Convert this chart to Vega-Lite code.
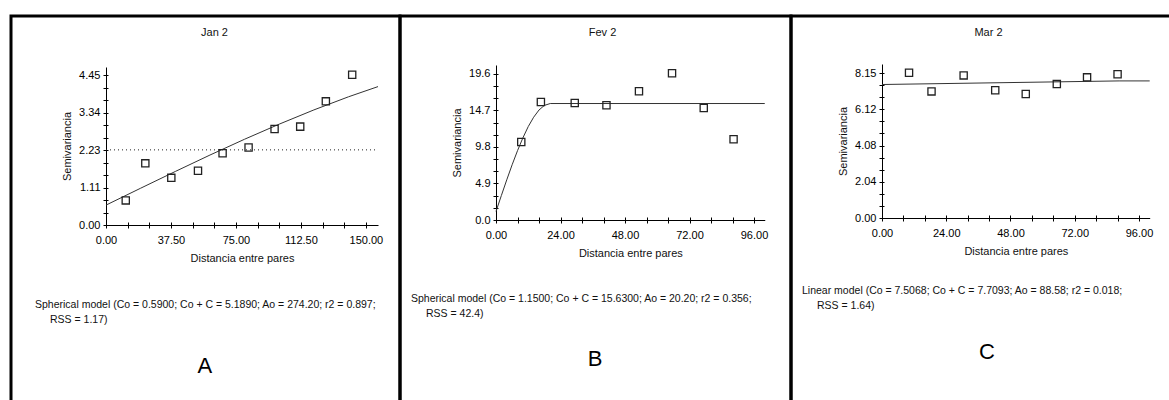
{
  "$schema": "https://vega.github.io/schema/vega-lite/v6.json",
  "background": "white",
  "padding": {"left": 9, "top": 14, "right": 0, "bottom": 0},
  "bounds": "flush",
  "spacing": 0,
  "config": {
    "view": {"stroke": "black", "strokeWidth": 3},
    "font": "Liberation Sans",
    "axis": {
      "domainColor": "black", "tickColor": "black", "labelColor": "black", "titleColor": "#111",
      "labelFont": "Liberation Sans", "titleFont": "Liberation Sans",
      "labelFontSize": 11, "titleFontSize": 11, "titleFontWeight": "normal",
      "grid": false, "tickSize": 3, "tickCount": 50, "labelOverlap": false, "labelFlush": false, "labelBound": false
    },
    "title": {"fontSize": 11, "fontWeight": "normal", "font": "Liberation Sans", "color": "#111"}
  },
  "datasets": {
    "jan_points": [
      {"distancia": 11.4, "semivariancia": 0.73},
      {"distancia": 22.7, "semivariancia": 1.83},
      {"distancia": 37.7, "semivariancia": 1.40},
      {"distancia": 53.1, "semivariancia": 1.61},
      {"distancia": 67.3, "semivariancia": 2.13},
      {"distancia": 82.3, "semivariancia": 2.30},
      {"distancia": 97.3, "semivariancia": 2.85},
      {"distancia": 112.1, "semivariancia": 2.92},
      {"distancia": 126.9, "semivariancia": 3.67},
      {"distancia": 142.1, "semivariancia": 4.46}
    ],
    "jan_model": [
      {"distancia": 0, "semivariancia": 0.59},
      {"distancia": 20, "semivariancia": 1.092},
      {"distancia": 40, "semivariancia": 1.589},
      {"distancia": 60, "semivariancia": 2.076},
      {"distancia": 80, "semivariancia": 2.546},
      {"distancia": 100, "semivariancia": 2.994},
      {"distancia": 120, "semivariancia": 3.416},
      {"distancia": 140, "semivariancia": 3.806},
      {"distancia": 157, "semivariancia": 4.108}
    ],
    "jan_ref": [{"desde": 0, "hasta": 156, "varianza": 2.23}],
    "jan_text": [
      {"linea": 1, "label": "Spherical model (Co = 0.5900; Co + C = 5.1890; Ao = 274.20; r2 = 0.897;"},
      {"linea": 2, "label": "RSS = 1.17)"}
    ],
    "jan_letter": [{"label": "A"}],
    "fev_points": [
      {"distancia": 9.4, "semivariancia": 10.47},
      {"distancia": 16.7, "semivariancia": 15.84},
      {"distancia": 29.3, "semivariancia": 15.71},
      {"distancia": 41.1, "semivariancia": 15.40},
      {"distancia": 53.2, "semivariancia": 17.27},
      {"distancia": 65.5, "semivariancia": 19.69},
      {"distancia": 77.3, "semivariancia": 15.04},
      {"distancia": 88.4, "semivariancia": 10.83}
    ],
    "fev_model": [
      {"distancia": 0, "semivariancia": 1.15},
      {"distancia": 2, "semivariancia": 3.29},
      {"distancia": 4, "semivariancia": 5.39},
      {"distancia": 6, "semivariancia": 7.41},
      {"distancia": 8, "semivariancia": 9.30},
      {"distancia": 10, "semivariancia": 11.02},
      {"distancia": 12, "semivariancia": 12.54},
      {"distancia": 14, "semivariancia": 13.79},
      {"distancia": 16, "semivariancia": 14.76},
      {"distancia": 18, "semivariancia": 15.38},
      {"distancia": 20.2, "semivariancia": 15.63},
      {"distancia": 100, "semivariancia": 15.63}
    ],
    "fev_text": [
      {"linea": 1, "label": "Spherical model (Co = 1.1500; Co + C = 15.6300; Ao = 20.20; r2 = 0.356;"},
      {"linea": 2, "label": "RSS = 42.4)"}
    ],
    "fev_letter": [{"label": "B"}],
    "mar_points": [
      {"distancia": 10.1, "semivariancia": 8.17},
      {"distancia": 18.5, "semivariancia": 7.12},
      {"distancia": 30.5, "semivariancia": 8.02},
      {"distancia": 42.3, "semivariancia": 7.18},
      {"distancia": 53.7, "semivariancia": 6.97},
      {"distancia": 65.3, "semivariancia": 7.53},
      {"distancia": 76.6, "semivariancia": 7.91},
      {"distancia": 88.0, "semivariancia": 8.08}
    ],
    "mar_model": [
      {"distancia": 0, "semivariancia": 7.507},
      {"distancia": 88.58, "semivariancia": 7.709},
      {"distancia": 100, "semivariancia": 7.709}
    ],
    "mar_text": [
      {"linea": 1, "label": "Linear model (Co = 7.5068; Co + C = 7.7093; Ao = 88.58; r2 = 0.018;"},
      {"linea": 2, "label": "RSS = 1.64)"}
    ],
    "mar_letter": [{"label": "C"}]
  },
  "hconcat": [
    {
      "width": 389, "height": 400,
      "title": {"text": "Jan 2", "anchor": "middle", "offset": -28, "baseline": "middle", "dx": 9},
      "resolve": {"axis": {"x": "independent", "y": "independent"}},
      "layer": [
        {
          "data": {"name": "jan_model"},
          "mark": {"type": "line", "color": "#333", "strokeWidth": 1},
          "encoding": {
            "x": {"field": "distancia", "type": "quantitative",
              "scale": {"domain": [0, 157], "range": [95, 367], "nice": false, "zero": false},
              "axis": {"orient": "bottom", "title": "Distancia entre pares", "offset": -191, "titlePadding": 7, "labelPadding": 6,
                "values": [0, 12.5, 25, 37.5, 50, 62.5, 75, 87.5, 100, 112.5, 125, 137.5, 150],
                "labelExpr": "['0.00','','','37.50','','','75.00','','','112.50','','','150.00'][round(datum.value/12.5)]"}},
            "y": {"field": "semivariancia", "type": "quantitative",
              "scale": {"domain": [0, 4.69], "range": [209, 51], "nice": false, "zero": false},
              "axis": {"orient": "left", "title": "Semivariancia", "offset": -95, "titlePadding": 6, "labelPadding": 3,
                "values": [0, 0.370833, 0.741667, 1.1125, 1.483333, 1.854167, 2.225, 2.595833, 2.966667, 3.3375, 3.708333, 4.079167, 4.45],
                "labelExpr": "['0.00','','','1.11','','','2.23','','','3.34','','','4.45'][round(datum.value/0.370833)]"}}
          }
        },
        {
          "data": {"name": "jan_ref"},
          "mark": {"type": "rule", "color": "#222", "strokeDash": [1, 3], "strokeWidth": 1},
          "encoding": {
            "x": {"field": "desde", "type": "quantitative", "axis": null},
            "x2": {"field": "hasta"},
            "y": {"field": "varianza", "type": "quantitative", "axis": null}
          }
        },
        {
          "data": {"name": "jan_points"},
          "mark": {"type": "point", "shape": "square", "size": 52, "filled": false, "color": "#222", "strokeWidth": 1.3, "opacity": 1},
          "encoding": {
            "x": {"field": "distancia", "type": "quantitative",
              "axis": {"orient": "bottom", "offset": -191, "title": null, "labels": false, "domain": false, "tickSize": -3,
                "values": [0, 12.5, 25, 37.5, 50, 62.5, 75, 87.5, 100, 112.5, 125, 137.5, 150]}},
            "y": {"field": "semivariancia", "type": "quantitative",
              "axis": {"orient": "left", "offset": -95, "title": null, "labels": false, "domain": false, "tickSize": -2,
                "values": [0, 0.370833, 0.741667, 1.1125, 1.483333, 1.854167, 2.225, 2.595833, 2.966667, 3.3375, 3.708333, 4.079167, 4.45]}}
          }
        },
        {
          "data": {"name": "jan_text"},
          "transform": [{"filter": "datum.linea == 1"}],
          "mark": {"type": "text", "align": "left", "baseline": "alphabetic", "fontSize": 10.5, "color": "#111"},
          "encoding": {
            "text": {"field": "label"},
            "x": {"datum": -40.98, "axis": null},
            "y": {"datum": -2.464, "axis": null}
          }
        },
        {
          "data": {"name": "jan_text"},
          "transform": [{"filter": "datum.linea == 2"}],
          "mark": {"type": "text", "align": "left", "baseline": "alphabetic", "fontSize": 10.5, "color": "#111"},
          "encoding": {
            "text": {"field": "label"},
            "x": {"datum": -32.32, "axis": null},
            "y": {"datum": -2.909, "axis": null}
          }
        },
        {
          "data": {"name": "jan_letter"},
          "mark": {"type": "text", "align": "center", "baseline": "middle", "fontSize": 22, "color": "black"},
          "encoding": {
            "text": {"field": "label"},
            "x": {"datum": 57.1, "axis": null},
            "y": {"datum": -4.185, "axis": null}
          }
        }
      ]
    },
    {
      "width": 391, "height": 400,
      "title": {"text": "Fev 2", "anchor": "middle", "offset": -28, "baseline": "middle", "dx": 7},
      "resolve": {"axis": {"x": "independent", "y": "independent"}},
      "layer": [
        {
          "data": {"name": "fev_model"},
          "mark": {"type": "line", "color": "#333", "strokeWidth": 1},
          "encoding": {
            "x": {"field": "distancia", "type": "quantitative",
              "scale": {"domain": [0, 100], "range": [96, 364.75], "nice": false, "zero": false},
              "axis": {"orient": "bottom", "title": "Distancia entre pares", "offset": -196, "titlePadding": 7, "labelPadding": 6,
                "values": [0, 8, 16, 24, 32, 40, 48, 56, 64, 72, 80, 88, 96],
                "labelExpr": "['0.00','','','24.00','','','48.00','','','72.00','','','96.00'][round(datum.value/8)]"}},
            "y": {"field": "semivariancia", "type": "quantitative",
              "scale": {"domain": [0, 20.8], "range": [204, 49], "nice": false, "zero": false},
              "axis": {"orient": "left", "title": "Semivariancia", "offset": -96, "titlePadding": 6, "labelPadding": 3,
                "values": [0, 1.633333, 3.266667, 4.9, 6.533333, 8.166667, 9.8, 11.433333, 13.066667, 14.7, 16.333333, 17.966667, 19.6],
                "labelExpr": "['0.0','','','4.9','','','9.8','','','14.7','','','19.6'][round(datum.value/1.633333)]"}}
          }
        },
        {
          "data": {"name": "fev_points"},
          "mark": {"type": "point", "shape": "square", "size": 52, "filled": false, "color": "#222", "strokeWidth": 1.3, "opacity": 1},
          "encoding": {
            "x": {"field": "distancia", "type": "quantitative",
              "axis": {"orient": "bottom", "offset": -196, "title": null, "labels": false, "domain": false, "tickSize": -3,
                "values": [0, 8, 16, 24, 32, 40, 48, 56, 64, 72, 80, 88, 96]}},
            "y": {"field": "semivariancia", "type": "quantitative",
              "axis": {"orient": "left", "offset": -96, "title": null, "labels": false, "domain": false, "tickSize": -2,
                "values": [0, 1.633333, 3.266667, 4.9, 6.533333, 8.166667, 9.8, 11.433333, 13.066667, 14.7, 16.333333, 17.966667, 19.6]}}
          }
        },
        {
          "data": {"name": "fev_text"},
          "transform": [{"filter": "datum.linea == 1"}],
          "mark": {"type": "text", "align": "left", "baseline": "alphabetic", "fontSize": 10.5, "color": "#111"},
          "encoding": {
            "text": {"field": "label"},
            "x": {"datum": -31.63, "axis": null},
            "y": {"datum": -11.004, "axis": null}
          }
        },
        {
          "data": {"name": "fev_text"},
          "transform": [{"filter": "datum.linea == 2"}],
          "mark": {"type": "text", "align": "left", "baseline": "alphabetic", "fontSize": 10.5, "color": "#111"},
          "encoding": {
            "text": {"field": "label"},
            "x": {"datum": -26.05, "axis": null},
            "y": {"datum": -13.017, "axis": null}
          }
        },
        {
          "data": {"name": "fev_letter"},
          "mark": {"type": "text", "align": "center", "baseline": "middle", "fontSize": 22, "color": "black"},
          "encoding": {
            "text": {"field": "label"},
            "x": {"datum": 36.84, "axis": null},
            "y": {"datum": -18.65, "axis": null}
          }
        }
      ]
    },
    {
      "width": 391, "height": 400,
      "title": {"text": "Mar 2", "anchor": "middle", "offset": -28, "baseline": "middle", "dx": 2},
      "resolve": {"axis": {"x": "independent", "y": "independent"}},
      "layer": [
        {
          "data": {"name": "mar_model"},
          "mark": {"type": "line", "color": "#333", "strokeWidth": 1},
          "encoding": {
            "x": {"field": "distancia", "type": "quantitative",
              "scale": {"domain": [0, 100], "range": [91, 358.7], "nice": false, "zero": false},
              "axis": {"orient": "bottom", "title": "Distancia entre pares", "offset": -198, "titlePadding": 7, "labelPadding": 6,
                "values": [0, 8, 16, 24, 32, 40, 48, 56, 64, 72, 80, 88, 96],
                "labelExpr": "['0.00','','','24.00','','','48.00','','','72.00','','','96.00'][round(datum.value/8)]"}},
            "y": {"field": "semivariancia", "type": "quantitative",
              "scale": {"domain": [0, 8.66], "range": [202, 48], "nice": false, "zero": false},
              "axis": {"orient": "left", "title": "Semivariancia", "offset": -91, "titlePadding": 6, "labelPadding": 3,
                "values": [0, 0.679167, 1.358333, 2.0375, 2.716667, 3.395833, 4.075, 4.754167, 5.433333, 6.1125, 6.791667, 7.470833, 8.15],
                "labelExpr": "['0.00','','','2.04','','','4.08','','','6.12','','','8.15'][round(datum.value/0.679167)]"}}
          }
        },
        {
          "data": {"name": "mar_points"},
          "mark": {"type": "point", "shape": "square", "size": 52, "filled": false, "color": "#222", "strokeWidth": 1.3, "opacity": 1},
          "encoding": {
            "x": {"field": "distancia", "type": "quantitative",
              "axis": {"orient": "bottom", "offset": -198, "title": null, "labels": false, "domain": false, "tickSize": -3,
                "values": [0, 8, 16, 24, 32, 40, 48, 56, 64, 72, 80, 88, 96]}},
            "y": {"field": "semivariancia", "type": "quantitative",
              "axis": {"orient": "left", "offset": -91, "title": null, "labels": false, "domain": false, "tickSize": -2,
                "values": [0, 0.679167, 1.358333, 2.0375, 2.716667, 3.395833, 4.075, 4.754167, 5.433333, 6.1125, 6.791667, 7.470833, 8.15]}}
          }
        },
        {
          "data": {"name": "mar_text"},
          "transform": [{"filter": "datum.linea == 1"}],
          "mark": {"type": "text", "align": "left", "baseline": "alphabetic", "fontSize": 10.5, "color": "#111"},
          "encoding": {
            "text": {"field": "label"},
            "x": {"datum": -29.88, "axis": null},
            "y": {"datum": -4.274, "axis": null}
          }
        },
        {
          "data": {"name": "mar_text"},
          "transform": [{"filter": "datum.linea == 2"}],
          "mark": {"type": "text", "align": "left", "baseline": "alphabetic", "fontSize": 10.5, "color": "#111"},
          "encoding": {
            "text": {"field": "label"},
            "x": {"datum": -24.28, "axis": null},
            "y": {"datum": -5.118, "axis": null}
          }
        },
        {
          "data": {"name": "mar_letter"},
          "mark": {"type": "text", "align": "center", "baseline": "middle", "fontSize": 22, "color": "black"},
          "encoding": {
            "text": {"field": "label"},
            "x": {"datum": 39.22, "axis": null},
            "y": {"datum": -7.535, "axis": null}
          }
        }
      ]
    }
  ]
}
